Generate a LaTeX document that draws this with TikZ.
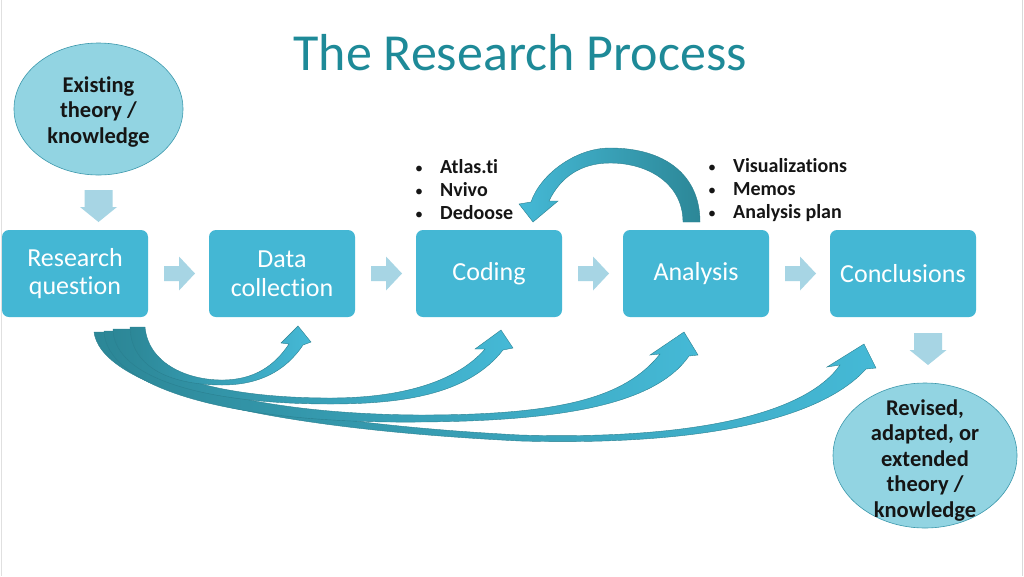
\documentclass[tikz,border=0pt]{standalone}
\usepackage{fontspec}
\setmainfont{Carlito}[Ligatures={NoCommon,NoContextual}]
\usetikzlibrary{calc,shapes.geometric}
\definecolor{boxc}{HTML}{44B7D4}
\definecolor{titlec}{HTML}{1E8A98}
\definecolor{ellc}{HTML}{92D4E2}
\definecolor{elld}{HTML}{3C98AC}
\definecolor{smallc}{HTML}{A7D5E4}
\definecolor{ribdark}{HTML}{2C8797}
\definecolor{riblight}{HTML}{45B9D6}
\definecolor{ribedge}{HTML}{2A8090}
\definecolor{textc}{HTML}{151515}
\newcommand\bul{{\normalfont\fontsize{16}{16}\selectfont •}}
\begin{document}
\begin{tikzpicture}[x=1pt,y=-1pt,
 stage/.style={rectangle, rounded corners=7pt, fill=boxc, minimum width=146pt, minimum height=87pt, text=white, align=center, font=\fontsize{26}{28.5}\selectfont, inner sep=0pt},
 bubble/.style={ellipse, fill=ellc, draw=elld, line width=0.6pt, inner sep=0pt},
 bubbletext/.style={align=center, text=textc, font=\bfseries\fontsize{22.5}{25.5}\selectfont, inner sep=0pt},
 bullets/.style={anchor=north west, align=left, text=textc, font=\bfseries\fontsize{20}{23.3}\selectfont, inner sep=0pt},
 smallarr/.style={fill=smallc},
 ribbon/.style={draw=ribedge, line width=0.4pt, left color=ribdark, right color=riblight},
]
\useasboundingbox (0,0) rectangle (1024,576);
\fill[white] (0,0) rectangle (1024,576);
\draw[black!12, line width=1pt] (1,0) -- (1,576);
\draw[black!15, line width=1pt] (1022,0) -- (1022,576);

% title
\node[text=titlec, font=\fontsize{52}{60}\selectfont, inner sep=0pt, anchor=base] (title) at (520,70) {The Research Process};

% stages
\node[stage] (rq) at (75,273.5) {Research\\question};
\node[stage] (dc) at (282,273.5) {Data\\collection};
\node[stage] (cod) at (489,273.5) {Coding};
\node[stage] (ana) at (696,273.5) {Analysis};
\node[stage] (con) at (903,273.5) {Conclusions};

% ellipses
\node[bubble, minimum width=169pt, minimum height=132pt] (ex) at (98.5,109) {};
\node[bubbletext] (ext) at ($(ex.center)+(0,3)$) {Existing\\theory /\\knowledge};
\node[bubble, minimum width=184pt, minimum height=145pt] (rev) at (925,455.5) {};
\node[bubbletext] (revt) at ($(rev.center)+(0,5)$) {Revised,\\adapted, or\\extended\\theory /\\knowledge};

% bullets
\node[bullets] (b1) at (415,156.5) {\begin{tabular}{@{}l@{\hspace{17pt}}l@{}}\bul & Atlas.ti\\\bul & Nvivo\\\bul & Dedoose\end{tabular}};
\node[bullets] (b2) at (708,155.5) {\begin{tabular}{@{}l@{\hspace{17pt}}l@{}}\bul & Visualizations\\\bul & Memos\\\bul & Analysis plan\end{tabular}};

% small right arrows
\foreach \a/\b/\n in {rq/dc/1, dc/cod/2, cod/ana/3, ana/con/4}{
  \coordinate (m\n) at ($(\a.east)!0.5!(\b.west)$);
  \fill[smallarr, shift={(m\n)}] (-14.5,-7.5) -- (0.5,-7.5) -- (0.5,-17) -- (16.5,0) -- (0.5,17) -- (0.5,7.5) -- (-14.5,7.5) -- cycle;
}
% small down arrows
\coordinate (d1) at (98.5,190);
\coordinate (d2) at (928,333);
\foreach \d in {d1,d2}{
  \fill[smallarr, shift={(\d)}] (-14,0) -- (14,0) -- (14,17) -- (18.5,17) -- (0,32) -- (-18.5,17) -- (-14,17) -- cycle;
}

% curved arrows from research question
% D -> conclusions
\path[ribbon] (112,332) .. controls (118,375) and (235,420) .. (520,435) .. controls (690,440) and (805,415) .. (840,365)
  -- (827,367) -- (864,344) -- (876,368) -- (866,369)
  .. controls (820,420) and (700,446) .. (520,441) .. controls (220,426) and (100,380) .. (94,332) -- cycle;
% C -> analysis
\path[ribbon] (121,331) .. controls (125,375) and (240,414) .. (420,415) .. controls (560,415) and (625,398) .. (660,354)
  -- (650,355) -- (684,332) -- (698,355) -- (689,356)
  .. controls (655,405) and (560,421) .. (420,422) .. controls (220,424) and (106,385) .. (104,331) -- cycle;
% B -> coding
\path[ribbon] (131,329) .. controls (135,375) and (220,398) .. (330,398) .. controls (410,398) and (460,378) .. (485,349)
  -- (475,349) -- (501,330) -- (513,348) -- (503,350)
  .. controls (470,392) and (410,404) .. (330,404) .. controls (210,404) and (114,380) .. (113,329) -- cycle;
% A -> data collection
\path[ribbon] (145,327) .. controls (148,362) and (185,380) .. (222,380) .. controls (255,380) and (275,365) .. (289,344)
  -- (281,343) -- (298,326) -- (311,342) -- (303,345)
  .. controls (285,372) and (258,385) .. (222,385) .. controls (175,385) and (131,370) .. (130,327) -- cycle;

% analysis -> coding loop
\path[ribbon, left color=riblight, right color=ribdark]
  (683,222) .. controls (683,185) and (650,163) .. (610,163) .. controls (580,163) and (560,178) .. (549,201)
  -- (558,201) -- (533,222) -- (519,204) -- (531,202)
  .. controls (540,175) and (575,148) .. (610,148) .. controls (665,148) and (700,175) .. (700,222) -- cycle;
\end{tikzpicture}
\end{document}
